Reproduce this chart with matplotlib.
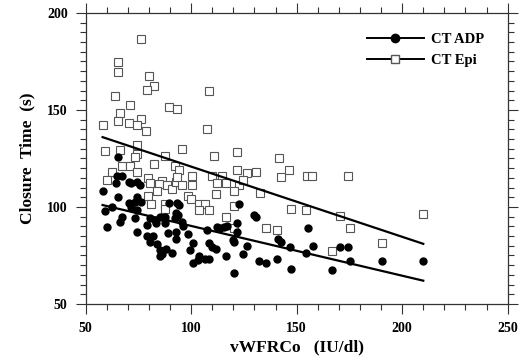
import matplotlib
matplotlib.use("Agg")
import matplotlib.pyplot as plt
from matplotlib.lines import Line2D
from matplotlib.ticker import MultipleLocator

plt.rcParams['font.family'] = ['Liberation Serif', 'DejaVu Serif']
plt.rcParams['font.weight'] = 'bold'

# CT ADP (filled circles)
adp_x = [58.1, 65.3, 65.0, 67.0, 64.2, 70.7, 71.5, 74.5, 75.7, 65.5, 74.5, 73.2, 76.4,
         70.5, 71.5, 74.5, 59.3, 62.3, 60.2, 67.2, 66.3, 73.5, 74.5, 78.9, 80.5, 83.0,
         85.2, 87.6, 83.3, 87.6, 89.6, 93.1, 94.2, 92.7, 93.6, 92.3, 95.5, 96.0, 92.7,
         88.9, 92.7, 78.9, 81.8, 80.5, 83.6, 98.5, 100.7, 99.4, 107.3, 108.3, 109.7,
         111.6, 112.1, 113.6, 115.5, 116.8, 121.6, 121.6, 120.0, 120.3, 122.8, 126.3,
         124.4, 116.5, 103.8, 103.3, 106.5, 108.6, 100.7, 85.2, 88.1, 86.0, 85.2, 90.8,
         120.3, 129.8, 130.7, 132.3, 135.5, 140.5, 141.3, 142.4, 146.6, 147.4, 155.5,
         157.6, 170.5, 174.5, 154.5, 175.4, 190.4, 209.7, 166.6]
adp_y = [108.2, 125.9, 116.0, 116.0, 112.2, 113.0, 112.2, 113.0, 111.3, 105.3, 105.3,
         102.7, 102.7, 101.9, 100.2, 98.5, 98.1, 100.2, 89.9, 95.0, 92.4, 94.2, 87.3,
         90.7, 94.2, 93.3, 95.0, 95.0, 91.6, 91.6, 102.2, 101.9, 101.0, 96.8, 95.9, 94.2,
         92.4, 90.2, 87.3, 86.4, 83.3, 85.1, 85.1, 82.1, 80.9, 86.1, 81.3, 77.8, 88.1,
         81.3, 79.2, 78.2, 89.9, 89.3, 89.9, 90.2, 91.9, 87.3, 83.0, 82.1, 101.5, 79.9,
         75.8, 74.7, 74.7, 72.7, 73.0, 73.0, 71.0, 77.8, 78.2, 75.6, 74.7, 76.1, 66.1,
         95.9, 95.0, 72.3, 71.3, 73.0, 83.3, 82.1, 79.2, 68.2, 89.2, 80.0, 79.2, 79.2,
         76.1, 72.3, 72.3, 72.3, 67.4]

# CT Epi (open squares)
epi_x = [76.1, 65.2, 65.2, 80.1, 82.4, 79.2, 108.4, 64.0, 71.1, 89.3, 93.4, 66.1, 65.3,
         70.4, 76.2, 74.2, 58.1, 78.4, 107.3, 59.3, 66.3, 74.3, 74.5, 73.2, 95.6, 87.4,
         110.7, 121.6, 141.5, 146.5, 82.4, 67.2, 71.1, 62.3, 74.2, 92.5, 94.4, 121.6,
         126.6, 130.6, 100.5, 109.7, 114.6, 142.7, 155.0, 157.4, 174.5, 147.4, 154.5,
         170.5, 209.7, 175.4, 140.5, 190.4, 166.6, 60.2, 79.7, 86.0, 80.5, 84.9, 88.4,
         83.6, 90.8, 92.8, 93.4, 95.8, 100.5, 112.4, 116.5, 122.5, 120.4, 124.4, 111.6,
         132.6, 79.5, 98.6, 99.8, 80.8, 87.6, 87.6, 103.8, 106.5, 103.8, 108.6, 120.3,
         116.5, 120.3, 135.5]
epi_y = [186.8, 174.6, 169.6, 167.5, 162.5, 160.5, 159.6, 157.4, 152.4, 151.4, 150.5,
         148.3, 144.3, 143.3, 145.4, 142.3, 142.1, 139.2, 140.2, 129.0, 129.2, 132.1,
         127.2, 125.9, 130.1, 126.1, 126.1, 128.2, 125.3, 119.1, 122.2, 121.1, 121.0,
         118.0, 118.0, 121.1, 119.1, 119.1, 117.4, 118.0, 116.1, 116.1, 116.1, 115.5,
         116.1, 116.1, 116.1, 99.1, 98.3, 95.4, 96.4, 89.2, 88.1, 81.3, 77.2, 113.9,
         115.1, 113.4, 112.2, 111.7, 111.3, 108.4, 109.1, 113.0, 115.6, 111.3, 111.3,
         112.5, 112.5, 111.3, 108.4, 113.9, 106.5, 107.4, 105.7, 105.5, 104.3, 101.4,
         101.4, 99.1, 101.4, 101.4, 98.3, 98.3, 100.5, 95.0, 89.2, 89.2]

# regression lines (end points)
adp_fit_x = [58, 210]
adp_fit_y = [101, 62]
epi_fit_x = [58, 210]
epi_fit_y = [136, 81]

fig = plt.figure(figsize=(5.2, 3.61), dpi=100)
ax = fig.add_axes([0.1648, 0.158, 0.8115, 0.806])

ax.plot(epi_x, epi_y, 's', ms=5.2, mfc='white', mec='#555555', mew=0.8, ls='none', zorder=3)
ax.plot(adp_x, adp_y, 'o', ms=5.0, color='black', ls='none', zorder=4)
ax.plot(adp_fit_x, adp_fit_y, color='black', lw=1.6, zorder=5)
ax.plot(epi_fit_x, epi_fit_y, color='black', lw=1.6, zorder=5)

ax.set_xlim(50, 250)
ax.set_ylim(50, 200)
ax.xaxis.set_major_locator(MultipleLocator(50))
ax.xaxis.set_minor_locator(MultipleLocator(10))
ax.yaxis.set_major_locator(MultipleLocator(50))
ax.yaxis.set_minor_locator(MultipleLocator(5))
ax.tick_params(which='both', direction='out', top=True, right=True,
               labeltop=False, labelright=False, width=0.8, colors='#333333',
               labelcolor='black')
ax.tick_params(which='major', length=7, labelsize=10, pad=6)
ax.tick_params(which='minor', length=4)
for s in ax.spines.values():
    s.set_linewidth(0.9)
    s.set_color('#333333')

ax.set_xlabel('vWFRCo   (IU/dl)', fontsize=12.5, fontweight='bold', labelpad=3)
ax.set_ylabel('Closure  Time  (s)', fontsize=12.5, fontweight='bold', labelpad=8)

handles = [
    Line2D([], [], color='black', lw=1.4, marker='o', ms=6, mfc='black'),
    Line2D([], [], color='black', lw=1.4, marker='s', ms=5.5, mfc='white', mec='#555555'),
]
ax.legend(handles, ['CT ADP', 'CT Epi'], loc='upper right', frameon=False,
          bbox_to_anchor=(0.975, 0.978), handlelength=3.9, handletextpad=0.5,
          labelspacing=0.55, prop={'weight': 'bold', 'size': 10.5})

fig.savefig('out.png', dpi=100)
